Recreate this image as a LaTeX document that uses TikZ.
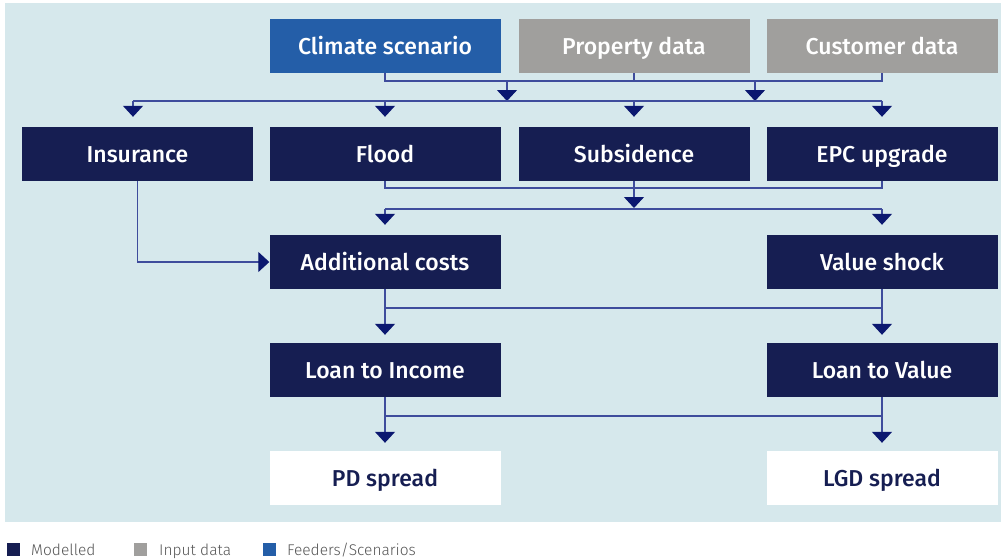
\documentclass[tikz,border=0pt]{standalone}
\usepackage{fontspec}
\setmainfont{Fira Sans}[BoldFont={Fira Sans Medium}]
\newfontfamily\legendfont{Fira Sans Light}
\usetikzlibrary{arrows.meta}
\definecolor{navy}{HTML}{161E52}
\definecolor{climblue}{HTML}{245EA8}
\definecolor{inputgrey}{HTML}{A09F9D}
\definecolor{panel}{HTML}{D6E8EC}
\definecolor{linec}{HTML}{3E4C9C}
\definecolor{tipc}{HTML}{0B1870}
\definecolor{legtext}{HTML}{555555}
\begin{document}
\begin{tikzpicture}[x=1pt,y=-1pt,
  box/.style={minimum width=231pt,minimum height=54pt,inner sep=0pt,
    text height=16pt,text depth=0pt,
    font=\fontsize{23}{26}\selectfont\bfseries,text=white},
  modelbox/.style={box,fill=navy},
  inputbox/.style={box,fill=inputgrey},
  feedbox/.style={box,fill=climblue},
  outbox/.style={box,fill=white,text=navy},
  ln/.style={draw=linec,line width=1.2pt},
  arr/.style={ln,-{Triangle[width=20pt,length=11pt,color=tipc]}},
  legsq/.style={minimum size=13pt,inner sep=0pt},
  legtxt/.style={anchor=base west,inner sep=0pt,text=legtext,
    font=\legendfont\fontsize{15.5}{18}\selectfont}]
\useasboundingbox (0,0) rectangle (1002,558);
\fill[panel] (5,3) rectangle (1001,522);

% row 1
\node[feedbox]  (clim) at (385,46)   {Climate scenario};
\node[inputbox] (prop) at (634,46)   {Property data};
\node[inputbox] (cust) at (882,46)   {Customer data};
% row 2
\node[modelbox] (ins)  at (137.5,154) {Insurance};
\node[modelbox] (flood) at (385,154) {Flood};
\node[modelbox] (subs) at (634,154)  {Subsidence};
\node[modelbox] (epc)  at (882,154)  {EPC upgrade};
% row 3
\node[modelbox] (addc) at (385,262)  {Additional costs};
\node[modelbox] (vals) at (882,262)  {Value shock};
% row 4
\node[modelbox] (lti)  at (385,370)  {Loan to Income};
\node[modelbox] (ltv)  at (882,370)  {Loan to Value};
% row 5
\node[outbox]   (pd)   at (385,478)  {PD spread};
\node[outbox]   (lgd)  at (882,478)  {LGD spread};

% helper coordinates
\coordinate (h1) at (0,81);
\coordinate (h2) at (0,101);
\coordinate (h3) at (0,188);
\coordinate (h4) at (0,209);
\coordinate (h5) at (0,308);
\coordinate (h6) at (0,416);
\coordinate (m1) at (507,81);
\coordinate (m2) at (755,81);
\coordinate (l2) at (133,101);

% top inputs merge
\draw[ln] (clim.south) -- (clim.south |- h1) -- (cust.south |- h1) -- (cust.south);
\draw[ln] (prop.south) -- (prop.south |- h1);
\draw[arr] (m1) -- (m1 |- h2);
\draw[arr] (m2) -- (m2 |- h2);
\draw[ln] (l2) -- (epc.north |- h2);
\draw[arr,shorten >=10pt] (l2) -- (l2 |- ins.north);
\draw[arr,shorten >=10pt] (flood.north |- h2) -- (flood.north);
\draw[arr,shorten >=10pt] (subs.north |- h2) -- (subs.north);
\draw[arr,shorten >=10pt] (epc.north |- h2) -- (epc.north);

% row 2 merge
\draw[ln] (flood.south) -- (flood.south |- h3) -- (epc.south |- h3) -- (epc.south);
\draw[arr,shorten >=1pt] (subs.south) -- (subs.south |- h4);
\draw[ln] (addc.north |- h4) -- (vals.north |- h4);
\draw[arr,shorten >=10pt] (addc.north |- h4) -- (addc.north);
\draw[arr,shorten >=10pt] (vals.north |- h4) -- (vals.north);

% insurance to additional costs
\draw[arr] (ins.south) |- (addc.west);

% row 3 to row 4
\draw[ln] (addc.south |- h5) -- (vals.south |- h5);
\draw[arr,shorten >=8pt] (addc.south) -- (lti.north);
\draw[arr,shorten >=8pt] (vals.south) -- (ltv.north);

% row 4 to row 5
\draw[ln] (lti.south |- h6) -- (ltv.south |- h6);
\draw[arr,shorten >=8pt] (lti.south) -- (pd.north);
\draw[arr,shorten >=8pt] (ltv.south) -- (lgd.north);

% legend
\node[legsq,fill=navy]       (k1) at (13,549) {};
\node[legtxt] (t1) at (31,555.5) {Modelled};
\node[legsq,fill=inputgrey]  (k2) at (140,549) {};
\node[legtxt] (t2) at (159,555.5) {Input data};
\node[legsq,fill=climblue]   (k3) at (269,549) {};
\node[legtxt] (t3) at (287,555.5) {Feeders/Scenarios};
\end{tikzpicture}
\end{document}
